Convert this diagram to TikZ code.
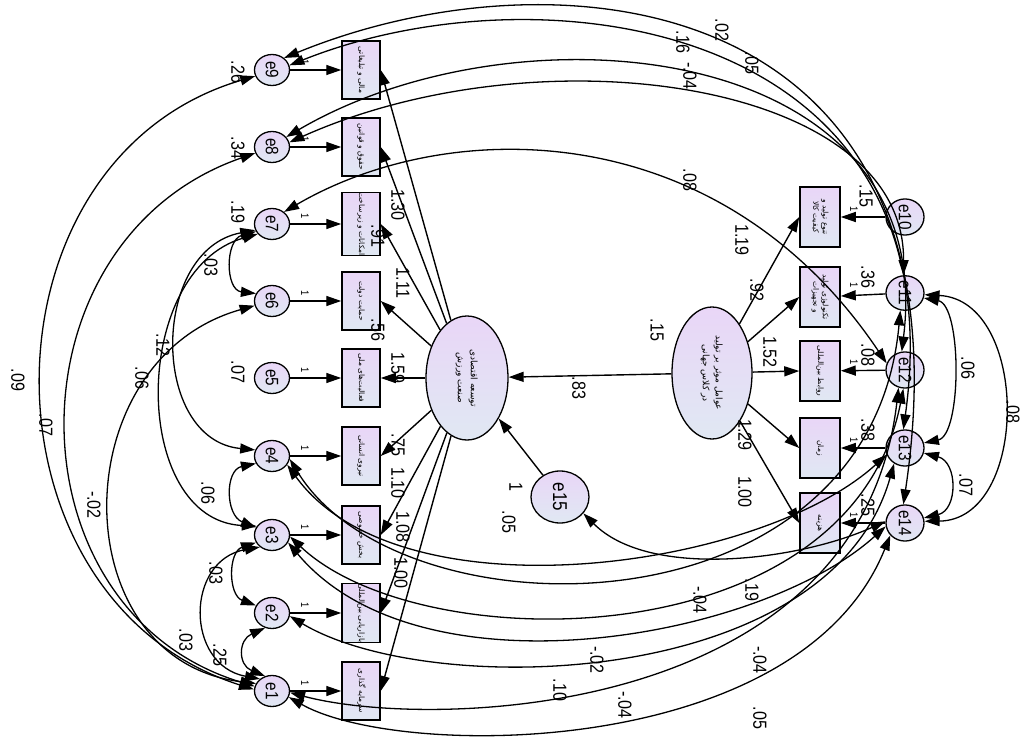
\documentclass[tikz,border=0pt]{standalone}
\usepackage{fontspec}
\usepackage{graphicx}
\setmainfont{Liberation Sans}
\newfontfamily\numfont[FakeStretch=0.85]{Liberation Sans}
\newfontfamily\arabicfont[Script=Arabic]{DejaVu Sans}
\TeXXeTstate=1
\usetikzlibrary{shapes.geometric,arrows.meta}
\definecolor{lavT}{RGB}{233,214,247}
\definecolor{lavB}{RGB}{224,232,243}
\newcommand{\rl}[1]{\rotatebox{-90}{#1}}
\newcommand{\fatext}[1]{\rotatebox{-90}{\arabicfont\fontsize{7.5}{9.5}\selectfont\begin{tabular}{@{}c@{}}#1\end{tabular}}}
\newcommand{\latext}[1]{\rotatebox{-90}{\arabicfont\fontsize{9}{13}\selectfont\begin{tabular}{@{}c@{}}#1\end{tabular}}}
\begin{document}
\begin{tikzpicture}[x=1pt,y=-1pt,
  >={Triangle[length=15pt,width=10pt]},
  evar/.style={ellipse,draw,line width=1.3pt,top color=lavT,bottom color=lavB,minimum width=35pt,minimum height=31pt,inner sep=0pt,font=\numfont\fontsize{18}{18}\selectfont},
  evarr/.style={evar,minimum width=38pt,minimum height=34pt},
  obs/.style={rectangle,draw,line width=1.5pt,top color=lavT,bottom color=lavB,minimum width=38pt,minimum height=58pt,inner sep=0pt},
  obsr/.style={obs,minimum width=40pt,minimum height=60pt},
  lat/.style={ellipse,draw,line width=1.3pt,top color=lavT,bottom color=lavB,inner sep=0pt},
  reg/.style={line width=1.4pt,->},
  cov/.style={line width=1.3pt,<->},
  num/.style={rotate=-90,font=\numfont\fontsize{19}{19}\selectfont,inner sep=0pt},
  one/.style={rotate=-90,font=\numfont\fontsize{11}{11}\selectfont,inner sep=0pt}]
\useasboundingbox (0,0) rectangle (1023,738);
\fill[white] (0,0) rectangle (1023,738);

% left error terms
\node[evar] (e9) at (272,70) {\rl{e9}};
\node[evar] (e8) at (272,147) {\rl{e8}};
\node[evar] (e7) at (272,224) {\rl{e7}};
\node[evar] (e6) at (272,301) {\rl{e6}};
\node[evar] (e5) at (272,378) {\rl{e5}};
\node[evar] (e4) at (272,456) {\rl{e4}};
\node[evar] (e3) at (272,535) {\rl{e3}};
\node[evar] (e2) at (272,613) {\rl{e2}};
\node[evar] (e1) at (272,691) {\rl{e1}};

% left observed
\node[obs] (b9) at (361,70) {\fatext{\beginR مالی و تبلیغاتی\endR}};
\node[obs] (b8) at (361,147) {\fatext{\beginR حقوق و قوانین\endR}};
\node[obs] (b7) at (361,224) {\fatext{\beginR امکانات و زیرساخت\endR}};
\node[obs] (b6) at (361,301) {\fatext{\beginR حمایت دولت\endR}};
\node[obs] (b5) at (361,378) {\fatext{\beginR فعالیت‌های ملی\endR}};
\node[obs] (b4) at (361,456) {\fatext{\beginR نیروی انسانی\endR}};
\node[obs] (b3) at (361,535) {\fatext{\beginR بخش خصوصی\endR}};
\node[obs] (b2) at (361,613) {\fatext{\beginR بازاریابی بین‌المللی\endR}};
\node[obs] (b1) at (361,691) {\fatext{\beginR سرمایه گذاری\endR}};

% latents
\node[lat,minimum width=82pt,minimum height=124pt] (L1) at (467,378) {\latext{\beginR توسعه اقتصادی\endR\\\beginR صنعت ورزش\endR}};
\node[lat,minimum width=80pt,minimum height=132pt] (L2) at (712,373) {\latext{\beginR عوامل موثر بر تولید\endR\\\beginR در کلاس جهانی\endR}};
\node[evar,minimum width=58pt,minimum height=52pt,font=\numfont\fontsize{20}{20}\selectfont] (e15) at (560,497) {\rl{e15}};

% right observed
\node[obsr] (r10) at (820,217) {\fatext{\beginR تنوع تولید و\endR\\\beginR کیفیت کالا\endR}};
\node[obsr] (r11) at (820,297) {\fatext{\beginR تکنولوژی تولید\endR\\\beginR و تجهیزات\endR}};
\node[obsr] (r12) at (820,371) {\fatext{\beginR روابط بین‌المللی\endR}};
\node[obsr] (r13) at (820,448) {\fatext{\beginR زمان\endR}};
\node[obsr] (r14) at (820,523) {\fatext{\beginR هزینه\endR}};

% right error terms
\node[evarr] (e10) at (905,217) {\rl{e10}};
\node[evarr] (e11) at (905,293) {\rl{e11}};
\node[evarr] (e12) at (905,370) {\rl{e12}};
\node[evarr] (e13) at (905,448) {\rl{e13}};
\node[evarr] (e14) at (905,523) {\rl{e14}};

% error -> indicator
\foreach \i in {1,...,9} {\draw[reg] (e\i) -- (b\i);}
\foreach \i in {10,...,14} {\draw[reg] (e\i) -- (r\i);}
\foreach \i/\y in {9/70,8/147,7/224,6/301,5/378,4/456,3/535,2/613,1/691}
  {\node[one] (o\i) at (305,\y-8) {1};}
\foreach \i/\y in {10/217,11/293,12/370,13/448,14/523}
  {\node[one] (o\i) at (854,\y-8) {1};}

% loadings
\foreach \i in {1,...,9} {\draw[reg] (L1) -- (b\i.east);}
\foreach \i in {10,...,14} {\draw[reg] (L2) -- (r\i.west);}
\draw[reg] (L2) -- (L1);
\draw[reg] (e15) -- (L1);

\node[num] (w9) at (398,205) {1.30};
\node[num] (w8) at (378,236) {.91};
\node[num] (w7) at (403,283) {1.11};
\node[num] (w6) at (378,330) {.56};
\node[num] (w5) at (398,368) {1.59};
\node[num] (w4) at (398,445) {.75};
\node[num] (w3) at (398,483) {1.10};
\node[num] (w2) at (403,527) {1.08};
\node[num] (w1) at (401,573) {1.00};
\node[num] (w10) at (742,240) {1.19};
\node[num] (w11) at (757,290) {.92};
\node[num] (w12) at (770,352) {1.52};
\node[num] (w13) at (745,435) {1.29};
\node[num] (w14) at (745,492) {1.00};
\node[num] (wl) at (579,388) {.83};
\node[num] (vl2) at (657,330) {.15};
\node[num] (w15) at (516,487) {1};
\node[num] (v15) at (509,522) {.05};

% variances
\node[num] (v9) at (238,72) {.26};
\node[num] (v8) at (238,148) {.34};
\node[num] (v7) at (238,212) {.19};
\node[num] (v5) at (238,372) {.07};
\node[num] (v10) at (866,196) {.15};
\node[num] (v11) at (868,277) {.36};
\node[num] (v12) at (868,355) {.08};
\node[num] (v13) at (868,430) {.38};
\node[num] (v14) at (868,505) {.25};

% left covariances
\draw[cov] (e1.175) .. controls (-28,600) and (-28,160) .. (e9.200);
\draw[cov] (e1.165) .. controls (5,610) and (5,240) .. (e8.200);
\draw[cov] (e1.155) .. controls (62,660) and (62,360) .. (e6.195);
\draw[cov] (e7.200) .. controls (150,250) and (150,440) .. (e4.160);
\draw[cov] (e7.215) .. controls (130,270) and (130,520) .. (e3.150);
\draw[cov] (e6.155) .. controls (225,290) and (225,240) .. (e7.205);
\draw[cov] (e3.155) .. controls (225,515) and (225,470) .. (e4.205);
\draw[cov] (e2.155) .. controls (228,595) and (228,552) .. (e3.205);
\draw[cov] (e1.135) .. controls (185,665) and (185,560) .. (e3.225);
\draw[cov] (e1.115) .. controls (238,665) and (238,640) .. (e2.245);
\node[num] (c1) at (18,380) {.09};
\node[num] (c2) at (46,425) {.07};
\node[num] (c3) at (94,505) {-.02};
\node[num] (c4) at (163,345) {.12};
\node[num] (c5) at (142,378) {.06};
\node[num] (c6) at (211,265) {.03};
\node[num] (c7) at (208,493) {.06};
\node[num] (c8) at (216,573) {.03};
\node[num] (c9) at (186,640) {.03};
\node[num] (c10) at (220,655) {.25};

% right covariances
\draw[cov] (e11.-15) .. controls (962,305) and (962,435) .. (e13.15);
\draw[cov] (e11.-5) .. controls (1030,300) and (1030,520) .. (e14.5);
\draw[cov] (e13.-15) .. controls (958,462) and (958,510) .. (e14.15);
\node[num] (c11) at (968,368) {.06};
\node[num] (c12) at (1013,412) {.08};
\node[num] (c13) at (966,485) {.07};

% top covariances
\draw[cov] (e9.45) .. controls (560,-55) and (980,-10) .. (e14.95);
\draw[cov] (e9.15) .. controls (540,-35) and (960,20) .. (e13.95);
\draw[cov] (e8.35) .. controls (520,0) and (940,40) .. (e12.100);
\draw[cov] (e8.15) .. controls (540,30) and (905,80) .. (e11.95);
\draw[cov] (e7.45) .. controls (450,115) and (720,115) .. (e12.160);
\node[num] (c14) at (722,30) {.02};
\node[num] (c15) at (683,42) {.16};
\node[num] (c16) at (690,76) {-.04};
\node[num] (c17) at (752,63) {.05};
\node[num] (c18) at (690,180) {.08};

% bottom covariances
\draw[cov] (e1.-20) .. controls (400,760) and (800,760) .. (e14.220);
\draw[cov] (e1.-5) .. controls (430,730) and (860,720) .. (e12.250);
\draw[cov] (e2.-10) .. controls (430,700) and (830,690) .. (e13.235);
\draw[cov] (e3.-5) .. controls (420,660) and (850,660) .. (e12.265);
\draw[cov] (e3.-25) .. controls (420,700) and (760,640) .. (e14.190);
\draw[cov] (e4.-10) .. controls (400,640) and (870,640) .. (e11.255);
\draw[cov] (e4.-30) .. controls (400,620) and (760,570) .. (e13.200);
\draw[cov] (e15.-35) .. controls (650,580) and (800,560) .. (e14.175);
\node[num] (c19) at (760,718) {.05};
\node[num] (c20) at (625,705) {-.04};
\node[num] (c21) at (560,690) {.10};
\node[num] (c22) at (760,660) {-.04};
\node[num] (c23) at (597,660) {-.02};
\node[num] (c24) at (752,590) {.19};
\node[num] (c25) at (700,600) {-.04};
\end{tikzpicture}
\end{document}
